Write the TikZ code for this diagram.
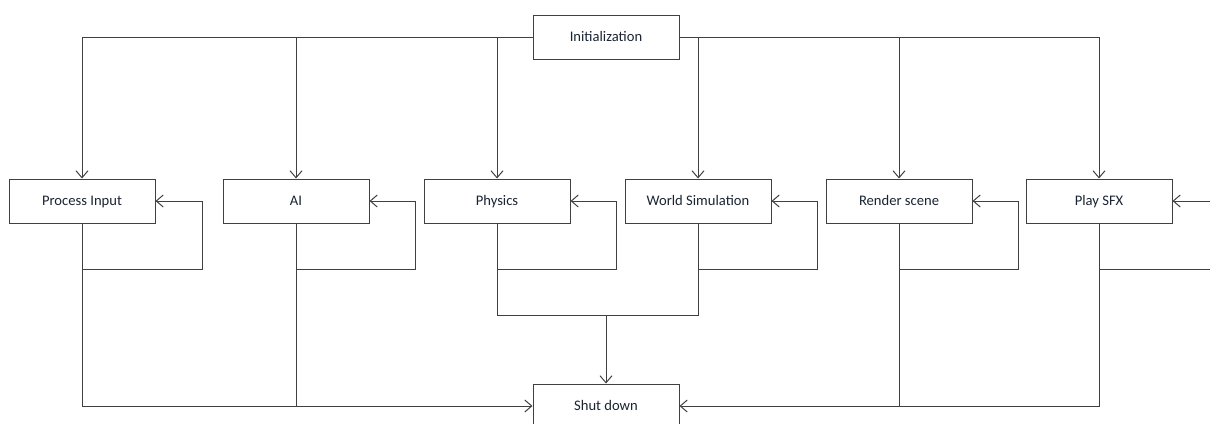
\documentclass[tikz,border=0pt]{standalone}
\usepackage{fontspec}
\setmainfont{Carlito}
\usetikzlibrary{arrows.meta}
\definecolor{linec}{HTML}{404040}
\definecolor{textc}{HTML}{1A2433}
\begin{document}
\begin{tikzpicture}[x=1pt,y=-1pt,
  box/.style={draw=linec,line width=1pt,minimum width=146pt,minimum height=44pt,inner sep=0pt,font=\fontsize{14.6}{16}\selectfont,text=textc,fill=white,text height=2.2ex,text depth=0.2ex},
  conn/.style={draw=linec,line width=1pt},
  arr/.style={conn,-{Straight Barb[length=7pt,width=12pt,line width=1pt]}}]
\useasboundingbox (0,0) rectangle (1210,423);
\clip (0,0) rectangle (1210,423);
\node[box] (init) at (606,37) {Initialization};
\node[box] (pi) at (82,201) {Process Input};
\node[box] (ai) at (296,201) {AI};
\node[box] (ph) at (497,201) {Physics};
\node[box] (ws) at (698,201) {World Simulation};
\node[box] (rs) at (899,201) {Render scene};
\node[box] (sfx) at (1099,201) {Play SFX};
\node[box] (sd) at (606,406) {Shut down};
% from Initialization
\draw[arr] (init.west) -| (pi.north);
\draw[arr] (296,37) -- (ai.north);
\draw[arr] (497,37) -- (ph.north);
\draw[arr] (init.east) -| (sfx.north);
\draw[arr] (698,37) -- (ws.north);
\draw[arr] (899,37) -- (rs.north);
% loops
\draw[arr] (pi.south) |- (202,269) |- (pi.east);
\draw[arr] (ai.south) |- (415,269) |- (ai.east);
\draw[arr] (ph.south) |- (616,269) |- (ph.east);
\draw[arr] (ws.south) |- (817,269) |- (ws.east);
\draw[arr] (rs.south) |- (1018,269) |- (rs.east);
\coordinate (sfxout) at (1220,269);
\coordinate (sfxin) at (1220,201);
\draw[conn] (sfx.south) |- (sfxout);
\draw[arr] (sfxin) -- (sfx.east);
% to shut down
\draw[arr] (pi.south) |- (sd.west);
\draw[conn] (ai.south) -- (296,406);
\draw[arr] (sfx.south) |- (sd.east);
\draw[conn] (rs.south) -- (899,406);
\coordinate (j) at (606,315);
\draw[conn] (ph.south) |- (ws.south |- j) -- (ws.south);
\draw[arr] (j) -- (sd.north);
\end{tikzpicture}
\end{document}
